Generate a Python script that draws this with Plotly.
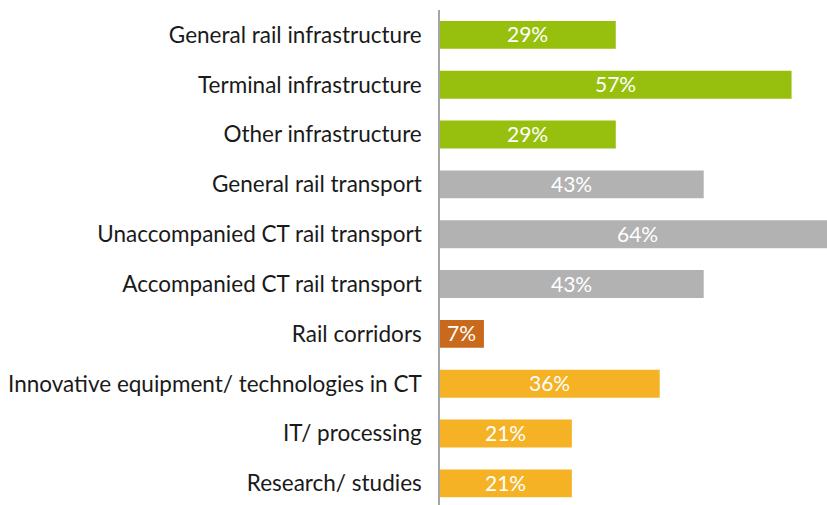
import plotly.graph_objects as go

categories = [
    "General rail infrastructure",
    "Terminal infrastructure",
    "Other infrastructure",
    "General rail transport",
    "Unaccompanied CT rail transport",
    "Accompanied CT rail transport",
    "Rail corridors",
    "Innovative equipment/ technologies in CT",
    "IT/ processing",
    "Research/ studies",
]
values = [28.57, 57.14, 28.57, 42.86, 64.29, 42.86, 7.14, 35.71, 21.43, 21.43]
labels = ["29%", "57%", "29%", "43%", "64%", "43%", "7%", "36%", "21%", "21%"]
colors = ["#97BF0D", "#97BF0D", "#97BF0D", "#B2B2B2", "#B2B2B2", "#B2B2B2",
          "#C8691C", "#F4B224", "#F4B224", "#F4B224"]

fig = go.Figure()
fig.add_trace(go.Bar(
    y=categories, x=values, orientation="h",
    marker=dict(color=colors, line=dict(width=0)),
    hoverinfo="skip",
))
for cat, val, lab in zip(categories, values, labels):
    fig.add_annotation(
        x=val / 2, y=cat, xref="x", yref="y", text=lab, showarrow=False,
        font=dict(color="white", size=21, family="Lato"),
        xanchor="center", yanchor="middle", yshift=1,
    )
fig.update_layout(
    width=827, height=505,
    margin=dict(l=440, r=0, t=10, b=0),
    paper_bgcolor="white", plot_bgcolor="white",
    bargap=0.44,
    showlegend=False,
    font=dict(family="Lato", size=22.5, color="#1a1a1a"),
    xaxis=dict(range=[0, 62.9], visible=False, showgrid=False, zeroline=False),
    yaxis=dict(range=[9.434, -0.5], showline=True, linecolor="#A6A6A6", linewidth=1.5,
               ticks="", showgrid=False, ticklabelstandoff=12,
               tickfont=dict(family="Lato", size=22.5, color="#1a1a1a")),
)
fig.write_html("out.html", config={"displayModeBar": False},
               post_script="document.body.style.margin='0';document.body.style.overflow='hidden';")
